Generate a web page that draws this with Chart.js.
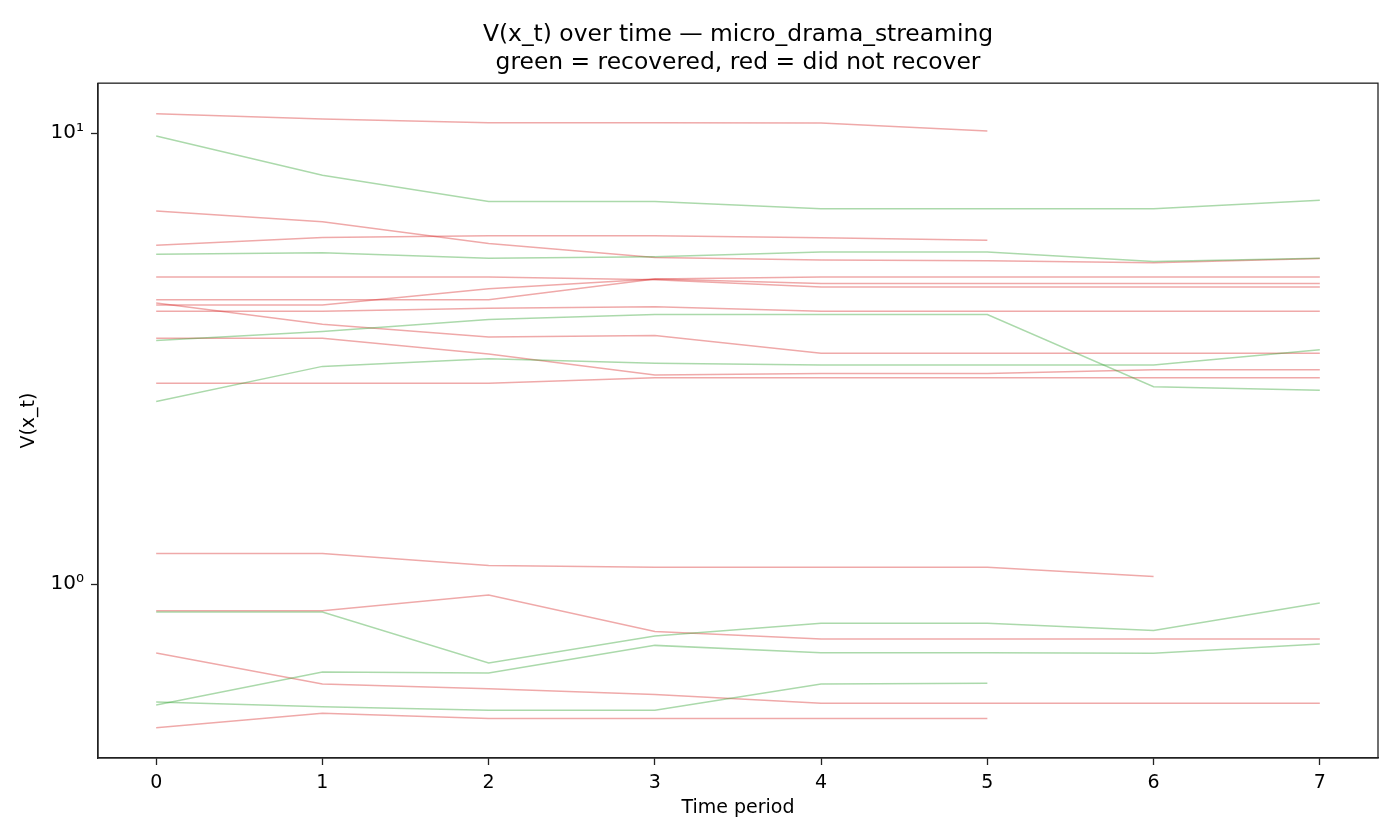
<!DOCTYPE html>
<html>
<head>
<meta charset="utf-8">
<title>V(x_t) over time</title>
<script src="https://cdn.jsdelivr.net/npm/chart.js@4.4.1/dist/chart.umd.min.js"></script>
<style>
  body { margin: 0; background: #fff; }
  #wrap { width: 1400px; height: 840px; }
</style>
</head>
<body>
<div id="wrap"><canvas id="myChart" width="1400" height="840"></canvas></div>
<script>
// time periods (x axis)
var periods = [0, 1, 2, 3, 4, 5, 6, 7];

// recovered firms (green)
var green1 = [9.85, 8.06, 7.05, 7.05, 6.80, 6.80, 6.80, 7.10];
var green2 = [5.39, 5.43, 5.28, 5.32, 5.45, 5.45, 5.19, 5.28];
var green3 = [3.47, 3.63, 3.86, 3.96, 3.96, 3.96, 2.74, 2.69];
var green4 = [2.54, 3.04, 3.16, 3.09, 3.06, 3.06, 3.06, 3.31];
var green5 = [0.868, 0.868, 0.669, 0.768, 0.819, 0.819, 0.790, 0.909];
var green6 = [0.540, 0.639, 0.636, 0.732, 0.705, 0.705, 0.703, 0.737];
var green7 = [0.548, 0.535, 0.526, 0.526, 0.601, 0.603];

// did not recover (red)
var red1 = [11.03, 10.74, 10.54, 10.54, 10.52, 10.10];
var red2 = [6.72, 6.36, 5.69, 5.30, 5.23, 5.21, 5.16, 5.27];
var red3 = [5.64, 5.87, 5.92, 5.92, 5.86, 5.79];
var red4 = [4.80, 4.80, 4.80, 4.73, 4.56, 4.56, 4.56, 4.56];
var red5 = [4.27, 4.27, 4.27, 4.75, 4.80, 4.80, 4.80, 4.80];
var red6 = [4.20, 3.77, 3.53, 3.56, 3.25, 3.25, 3.25, 3.25];
var red7 = [4.16, 4.16, 4.52, 4.75, 4.64, 4.64, 4.64, 4.64];
var red8 = [3.51, 3.51, 3.24, 2.91, 2.93, 2.93, 2.99, 2.99];
var red9 = [2.79, 2.79, 2.79, 2.87, 2.87, 2.87, 2.87, 2.87];
var red10 = [4.03, 4.03, 4.09, 4.12, 4.03, 4.03, 4.03, 4.03];
var red11 = [1.17, 1.17, 1.10, 1.09, 1.09, 1.09, 1.04];
var red12 = [0.873, 0.873, 0.947, 0.786, 0.756, 0.756, 0.756, 0.756];
var red13 = [0.704, 0.601, 0.587, 0.570, 0.545, 0.545, 0.545, 0.545];
var red14 = [0.481, 0.518, 0.504, 0.504, 0.504, 0.504];

// y tick labels
var yTicks = [1, 10];
var yTickLabels = ['10\u2070', '10\u00b9'];

var greenSeries = [green1, green2, green3, green4, green5, green6, green7];
var redSeries = [red1, red2, red3, red4, red5, red6, red7, red8, red9, red10, red11, red12, red13, red14];

var GREEN = 'rgba(44, 160, 44, 0.4)';
var RED = 'rgba(214, 39, 40, 0.4)';

function makeSet(values, color) {
  return {
    data: values.map(function (v, i) { return { x: periods[i], y: v }; }),
    borderColor: color,
    borderWidth: 1.5,
    pointRadius: 0,
    fill: false,
    tension: 0
  };
}

// frame around the plot area (matplotlib style spines)
var framePlugin = {
  id: 'frame',
  afterDraw: function (chart) {
    var a = chart.chartArea;
    var ctx = chart.ctx;
    ctx.save();
    ctx.strokeStyle = '#222';
    ctx.lineWidth = 1.3;
    ctx.strokeRect(a.left, a.top, a.right - a.left, a.bottom - a.top);
    ctx.restore();
  }
};

function chartOnLoad() {
  var datasets = [];
  greenSeries.forEach(function (s) { datasets.push(makeSet(s, GREEN)); });
  redSeries.forEach(function (s) { datasets.push(makeSet(s, RED)); });

  Chart.defaults.font.family = '"DejaVu Sans", sans-serif';
  Chart.defaults.color = '#000';

  new Chart(document.getElementById('myChart'), {
    type: 'line',
    data: { datasets: datasets },
    plugins: [framePlugin],
    options: {
      responsive: false,
      animation: false,
      devicePixelRatio: 1,
      layout: { padding: { left: 0, right: 22, top: 0, bottom: 0 } },
      plugins: {
        legend: { display: false },
        tooltip: { enabled: false },
        title: {
          display: true,
          fullSize: false,
          text: ['V(x_t) over time \u2014 micro_drama_streaming', 'green = recovered, red = did not recover'],
          font: { size: 23.4, weight: 'normal', lineHeight: 1.2 },
          color: '#000',
          padding: { top: 21, bottom: 6 }
        }
      },
      scales: {
        x: {
          type: 'linear',
          min: -0.35,
          max: 7.35,
          afterFit: function (scale) { scale.height = 82; },
          grid: { drawOnChartArea: false, drawTicks: true, tickLength: 7, tickColor: '#222', tickWidth: 1.3 },
          border: { display: true, color: '#222', width: 1.3 },
          ticks: {
            stepSize: 1,
            includeBounds: false,
            padding: 7,
            maxRotation: 0,
            font: { size: 19 },
            color: '#000',
            callback: function (v) { return Number.isInteger(v) ? String(v) : ''; }
          },
          title: {
            display: true,
            text: 'Time period',
            font: { size: 19 },
            color: '#000',
            padding: { top: 0, bottom: 21 }
          }
        },
        y: {
          type: 'logarithmic',
          min: 0.412,
          max: 12.9,
          afterFit: function (scale) { scale.width = 98; },
          afterBuildTicks: function (scale) {
            scale.ticks = yTicks.map(function (v) { return { value: v }; });
          },
          grid: { drawOnChartArea: false, drawTicks: true, tickLength: 7, tickColor: '#222', tickWidth: 1.3 },
          border: { display: true, color: '#222', width: 1.3 },
          ticks: {
            padding: 7,
            font: { size: 20 },
            color: '#000',
            callback: function (v) {
              var i = yTicks.indexOf(v);
              return i >= 0 ? yTickLabels[i] : '';
            }
          },
          title: {
            display: true,
            text: 'V(x_t)',
            font: { size: 19 },
            color: '#000',
            padding: { top: 18, bottom: 0 }
          }
        }
      }
    }
  });
}

window.onload = chartOnLoad;
</script>
</body>
</html>
